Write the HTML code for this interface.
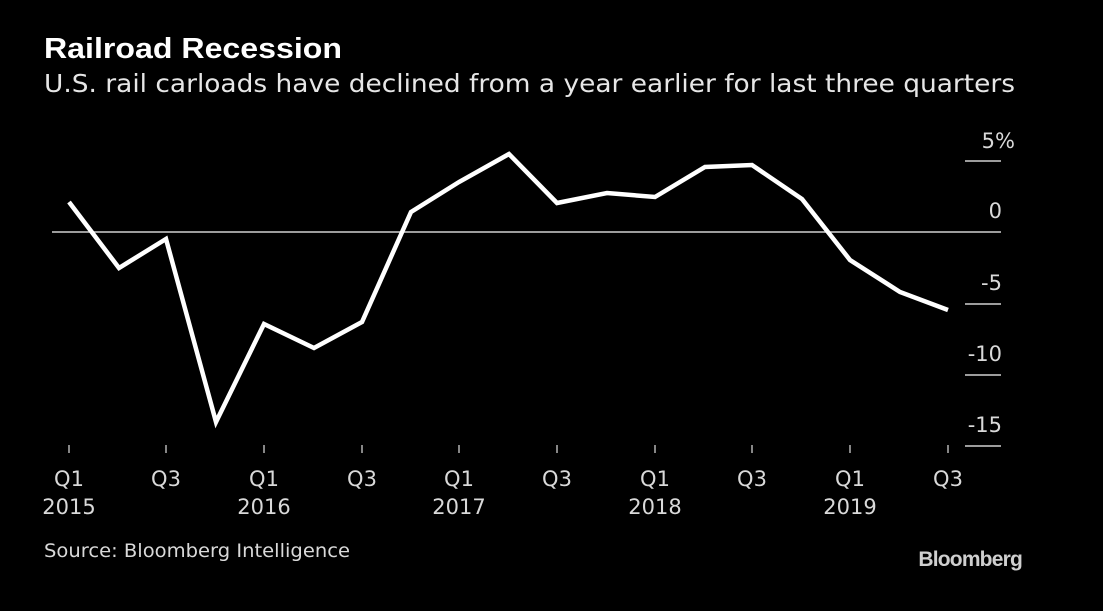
<!DOCTYPE html>
<html><head><meta charset="utf-8"><style>
body{margin:0;background:#000;width:1103px;height:611px;overflow:hidden}
svg{display:block}
text{font-family:"DejaVu Sans","Liberation Sans",sans-serif;fill:#d9d9d9}
</style></head><body>
<svg width="1103" height="611" viewBox="0 0 1103 611">
<text x="44" y="58" textLength="298" lengthAdjust="spacingAndGlyphs" style="font-family:'Liberation Sans',sans-serif;font-weight:bold;font-size:29px;fill:#fff">Railroad Recession</text>
<text x="44" y="92" textLength="971" lengthAdjust="spacingAndGlyphs" style="font-size:25px;fill:#e6e6e6">U.S. rail carloads have declined from a year earlier for last three quarters</text>
<g stroke="#cfcfcf" stroke-width="1.5">
<line x1="965" y1="161" x2="1001" y2="161"/>
<line x1="52" y1="232" x2="1001" y2="232"/>
<line x1="965" y1="304" x2="1001" y2="304"/>
<line x1="965" y1="375" x2="1001" y2="375"/>
<line x1="965" y1="446" x2="1001" y2="446"/>
<g stroke-width="1.3">
<line x1="69" y1="445" x2="69" y2="453"/><line x1="166" y1="445" x2="166" y2="453"/>
<line x1="264" y1="445" x2="264" y2="453"/><line x1="362" y1="445" x2="362" y2="453"/>
<line x1="459" y1="445" x2="459" y2="453"/><line x1="557" y1="445" x2="557" y2="453"/>
<line x1="655" y1="445" x2="655" y2="453"/><line x1="752" y1="445" x2="752" y2="453"/>
<line x1="850" y1="445" x2="850" y2="453"/><line x1="948" y1="445" x2="948" y2="453"/>
</g></g>
<g style="font-size:21px" text-anchor="end">
<text x="1015" y="148">5%</text><text x="1002" y="218">0</text><text x="1002" y="290">-5</text><text x="1002" y="361">-10</text><text x="1002" y="432">-15</text>
</g>
<g style="font-size:21px" text-anchor="middle">
<text x="69" y="486">Q1</text><text x="166" y="486">Q3</text><text x="264" y="486">Q1</text><text x="362" y="486">Q3</text><text x="459" y="486">Q1</text><text x="557" y="486">Q3</text><text x="655" y="486">Q1</text><text x="752" y="486">Q3</text><text x="850" y="486">Q1</text><text x="948" y="486">Q3</text>
<text x="69" y="514">2015</text><text x="264" y="514">2016</text><text x="459" y="514">2017</text><text x="655" y="514">2018</text><text x="850" y="514">2019</text>
</g>
<polyline fill="none" stroke="#fff" stroke-width="4.5" stroke-linejoin="miter" points="69,202 119,268 166,239 216,422 264,324 314,348 362,322 411,212 459,182 509,154 557,203 607,193 655,197 705,167 752,165 802,199 850,260 900,292 948,310"/>
<text x="44" y="557" textLength="306" lengthAdjust="spacingAndGlyphs" style="font-size:19px">Source: Bloomberg Intelligence</text>
<text x="1022" y="566" text-anchor="end" style="font-family:'Liberation Sans',sans-serif;font-weight:bold;font-size:21px;fill:#cfcfcf;letter-spacing:-0.8px">Bloomberg</text>
</svg>
</body></html>
